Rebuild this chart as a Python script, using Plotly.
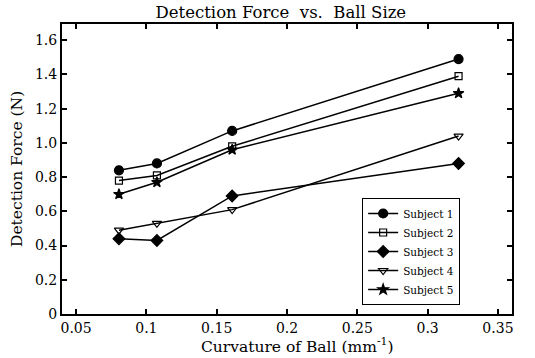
import plotly.graph_objects as go

curvature = [0.0805, 0.1075, 0.161, 0.322]
subject1 = [0.84, 0.88, 1.07, 1.49]
subject2 = [0.78, 0.81, 0.98, 1.39]
subject3 = [0.44, 0.43, 0.69, 0.88]
subject4 = [0.49, 0.53, 0.61, 1.04]
subject5 = [0.70, 0.77, 0.96, 1.29]
names = ["Subject 1", "Subject 2", "Subject 3", "Subject 4", "Subject 5"]
series = [subject1, subject2, subject3, subject4, subject5]
symbols = ["circle", "square-open", "diamond", "triangle-down-open", "star"]
sizes = [9, 7, 9, 8, 8]

y_ticks = [0, 0.2, 0.4, 0.6, 0.8, 1.0, 1.2, 1.4, 1.6]
y_ticktext = ["0", "0.2", "0.4", "0.6", "0.8", "1.0", "1.2", "1.4", "1.6"]
x_ticks = [0.05, 0.1, 0.15, 0.2, 0.25, 0.3, 0.35]
x_ticktext = ["0.05", "0.1", "0.15", "0.2", "0.25", "0.3", "0.35"]

FONT = "DejaVu Serif"

fig = go.Figure()
for name, vals, sym, sz in zip(names, series, symbols, sizes):
    fig.add_trace(go.Scatter(
        x=curvature, y=vals, name=name, mode="lines+markers",
        line=dict(color="black", width=1.5),
        marker=dict(symbol=sym, size=sz, color="black",
                    line=dict(color="black", width=1.2)),
    ))

axis_common = dict(
    showline=True, linecolor="black", linewidth=2, mirror="ticks",
    ticks="inside", ticklen=5, tickcolor="black", tickwidth=1.5,
    showgrid=False, zeroline=False, automargin=False,
    tickfont=dict(family=FONT, size=14, color="black"),
)

fig.update_layout(
    width=535, height=358,
    margin=dict(l=62, r=23, t=24, b=44),
    paper_bgcolor="white", plot_bgcolor="white",
    title=dict(text="Detection Force  vs.  Ball Size", x=0.525, xanchor="center",
               y=1 - 12 / 358, yanchor="middle",
               font=dict(family=FONT, size=16.5, color="black")),
    xaxis=dict(range=[0.04, 0.36], tickvals=x_ticks, ticktext=x_ticktext,
               **axis_common),
    yaxis=dict(range=[0, 1.695], tickvals=y_ticks, ticktext=y_ticktext,
               **axis_common),
    legend=dict(x=0.667, y=0.40, xanchor="left", yanchor="top",
                bordercolor="black", borderwidth=1, bgcolor="white",
                font=dict(family=FONT, size=10.5, color="black"),
                tracegroupgap=0, itemwidth=30),
    showlegend=True,
    annotations=[
        dict(text="Curvature of Ball (mm<sup>-1</sup>)", xref="paper", yref="paper",
             x=0.524, y=-0.11, xanchor="center", yanchor="middle", showarrow=False,
             font=dict(family=FONT, size=15.5, color="black")),
        dict(text="Detection Force (N)", xref="paper", yref="paper",
             x=-0.1, y=0.5, xanchor="center", yanchor="middle", showarrow=False,
             textangle=-90, font=dict(family=FONT, size=15.5, color="black")),
    ],
)

fig.write_html("out.html")
